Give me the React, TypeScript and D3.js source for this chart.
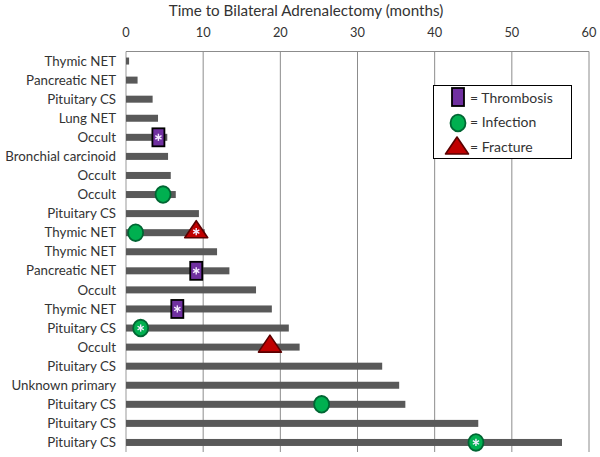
import { scaleBand, scaleLinear } from "d3";

const patients = [
  "Thymic NET", "Pancreatic NET", "Pituitary CS", "Lung NET", "Occult",
  "Bronchial carcinoid", "Occult", "Occult", "Pituitary CS", "Thymic NET",
  "Thymic NET", "Pancreatic NET", "Occult", "Thymic NET", "Pituitary CS",
  "Occult", "Pituitary CS", "Unknown primary", "Pituitary CS", "Pituitary CS",
  "Pituitary CS"
];

const months = [
  0.4, 1.5, 3.45, 4.15, 5.35, 5.45, 5.8, 6.45, 9.45, 10.2,
  11.8, 13.4, 16.85, 18.9, 21.1, 22.5, 33.2, 35.4, 36.2, 45.65, 56.5
];

// row index, month of event, starred
const thrombosis = [
  { row: 4, at: 4.2, star: true },
  { row: 11, at: 9.1, star: true },
  { row: 13, at: 6.65, star: true }
];
const infection = [
  { row: 7, at: 4.8, star: false },
  { row: 9, at: 1.25, star: false },
  { row: 14, at: 1.9, star: true },
  { row: 18, at: 25.35, star: false },
  { row: 20, at: 45.35, star: true }
];
const fracture = [
  { row: 9, at: 9.1, star: true },
  { row: 15, at: 18.65, star: false }
];

const xTicks = [0, 10, 20, 30, 40, 50, 60];
const legendLabels = ["= Thrombosis", "= Infection", "= Fracture"];

const PURPLE = "#7030A0";
const GREEN = "#00B050";
const RED = "#C00000";
const FONT = "Lato, 'Open Sans', sans-serif";
const TEXT = "#333";

function Star({ cx, cy }: { cx: number; cy: number }) {
  const r = 3.6;
  return (
    <g stroke="#f4ecff" strokeWidth={1.4}>
      {[90, 30, -30].map((a) => {
        const dx = r * Math.cos((a * Math.PI) / 180);
        const dy = r * Math.sin((a * Math.PI) / 180);
        return <line key={a} x1={cx - dx} y1={cy - dy} x2={cx + dx} y2={cy + dy} />;
      })}
    </g>
  );
}

function Thrombosis({ cx, cy, star }: { cx: number; cy: number; star: boolean }) {
  return (
    <g>
      <rect x={cx - 6} y={cy - 9} width={12} height={18} fill={PURPLE} stroke="#000" strokeWidth={1.8} />
      {star && <Star cx={cx} cy={cy} />}
    </g>
  );
}

function Infection({ cx, cy, star }: { cx: number; cy: number; star: boolean }) {
  return (
    <g>
      <ellipse cx={cx} cy={cy} rx={7.5} ry={8.3} fill={GREEN} stroke="#063" strokeWidth={1.8} />
      {star && <Star cx={cx} cy={cy} />}
    </g>
  );
}

function Fracture({ cx, cy, star }: { cx: number; cy: number; star: boolean }) {
  return (
    <g>
      <path
        d={`M${cx},${cy - 11} L${cx + 11.5},${cy + 6} L${cx - 11.5},${cy + 6} Z`}
        fill={RED}
        stroke="#5a0000"
        strokeWidth={1.6}
        strokeLinejoin="round"
      />
      {star && <Star cx={cx} cy={cy} />}
    </g>
  );
}

export default function App() {
  const width = 600;
  const height = 457;
  const x = scaleLinear().domain([0, 60]).range([126, 589]);
  const y = scaleBand<number>()
    .domain(patients.map((_, i) => i))
    .range([51.5, 452]);
  const cy = (i: number) => (y(i) ?? 0) + y.bandwidth() / 2;
  const barH = 7;

  return (
    <svg
      width={width}
      height={height}
      style={{ position: "absolute", left: 0, top: 0, background: "#fff" }}
      fontFamily={FONT}
    >
      <text x={306} y={16} textAnchor="middle" fontSize={15.2} fill={TEXT}>
        Time to Bilateral Adrenalectomy (months)
      </text>

      {xTicks.map((t) => (
        <g key={t}>
          <text x={x(t)} y={37} textAnchor="middle" fontSize={12.8} fill={TEXT}>
            {t}
          </text>
          <line
            x1={x(t)} x2={x(t)} y1={51.5} y2={452}
            stroke={t === 0 ? "#999" : "#8c8c8c"} strokeWidth={1}
          />
        </g>
      ))}
      <line x1={x(0)} x2={x(60)} y1={51.5} y2={51.5} stroke="#8c8c8c" />

      {patients.map((p, i) => (
        <text key={i} x={116} y={cy(i)} dy="0.35em" textAnchor="end" fontSize={13.3} fill={TEXT}>
          {p}
        </text>
      ))}

      {months.map((m, i) => (
        <rect key={i} x={x(0)} y={cy(i) - barH / 2} width={x(m) - x(0)} height={barH} fill="#595959" />
      ))}

      {thrombosis.map((d, i) => (
        <Thrombosis key={`t${i}`} cx={x(d.at)} cy={cy(d.row)} star={d.star} />
      ))}
      {infection.map((d, i) => (
        <Infection key={`i${i}`} cx={x(d.at)} cy={cy(d.row)} star={d.star} />
      ))}
      {fracture.map((d, i) => (
        <Fracture key={`f${i}`} cx={x(d.at)} cy={cy(d.row) - 1} star={d.star} />
      ))}

      <g>
        <rect x={433.5} y={85.5} width={138} height={73} fill="#fff" stroke="#000" strokeWidth={1} />
        <Thrombosis cx={458} cy={97} star={false} />
        <Infection cx={458} cy={123} star={false} />
        <Fracture cx={457} cy={148} star={false} />
        {legendLabels.map((l, i) => (
          <text key={l} x={470} y={98 + i * 24.5} dy="0.35em" fontSize={14} fill={TEXT}>
            {l}
          </text>
        ))}
      </g>
    </svg>
  );
}
